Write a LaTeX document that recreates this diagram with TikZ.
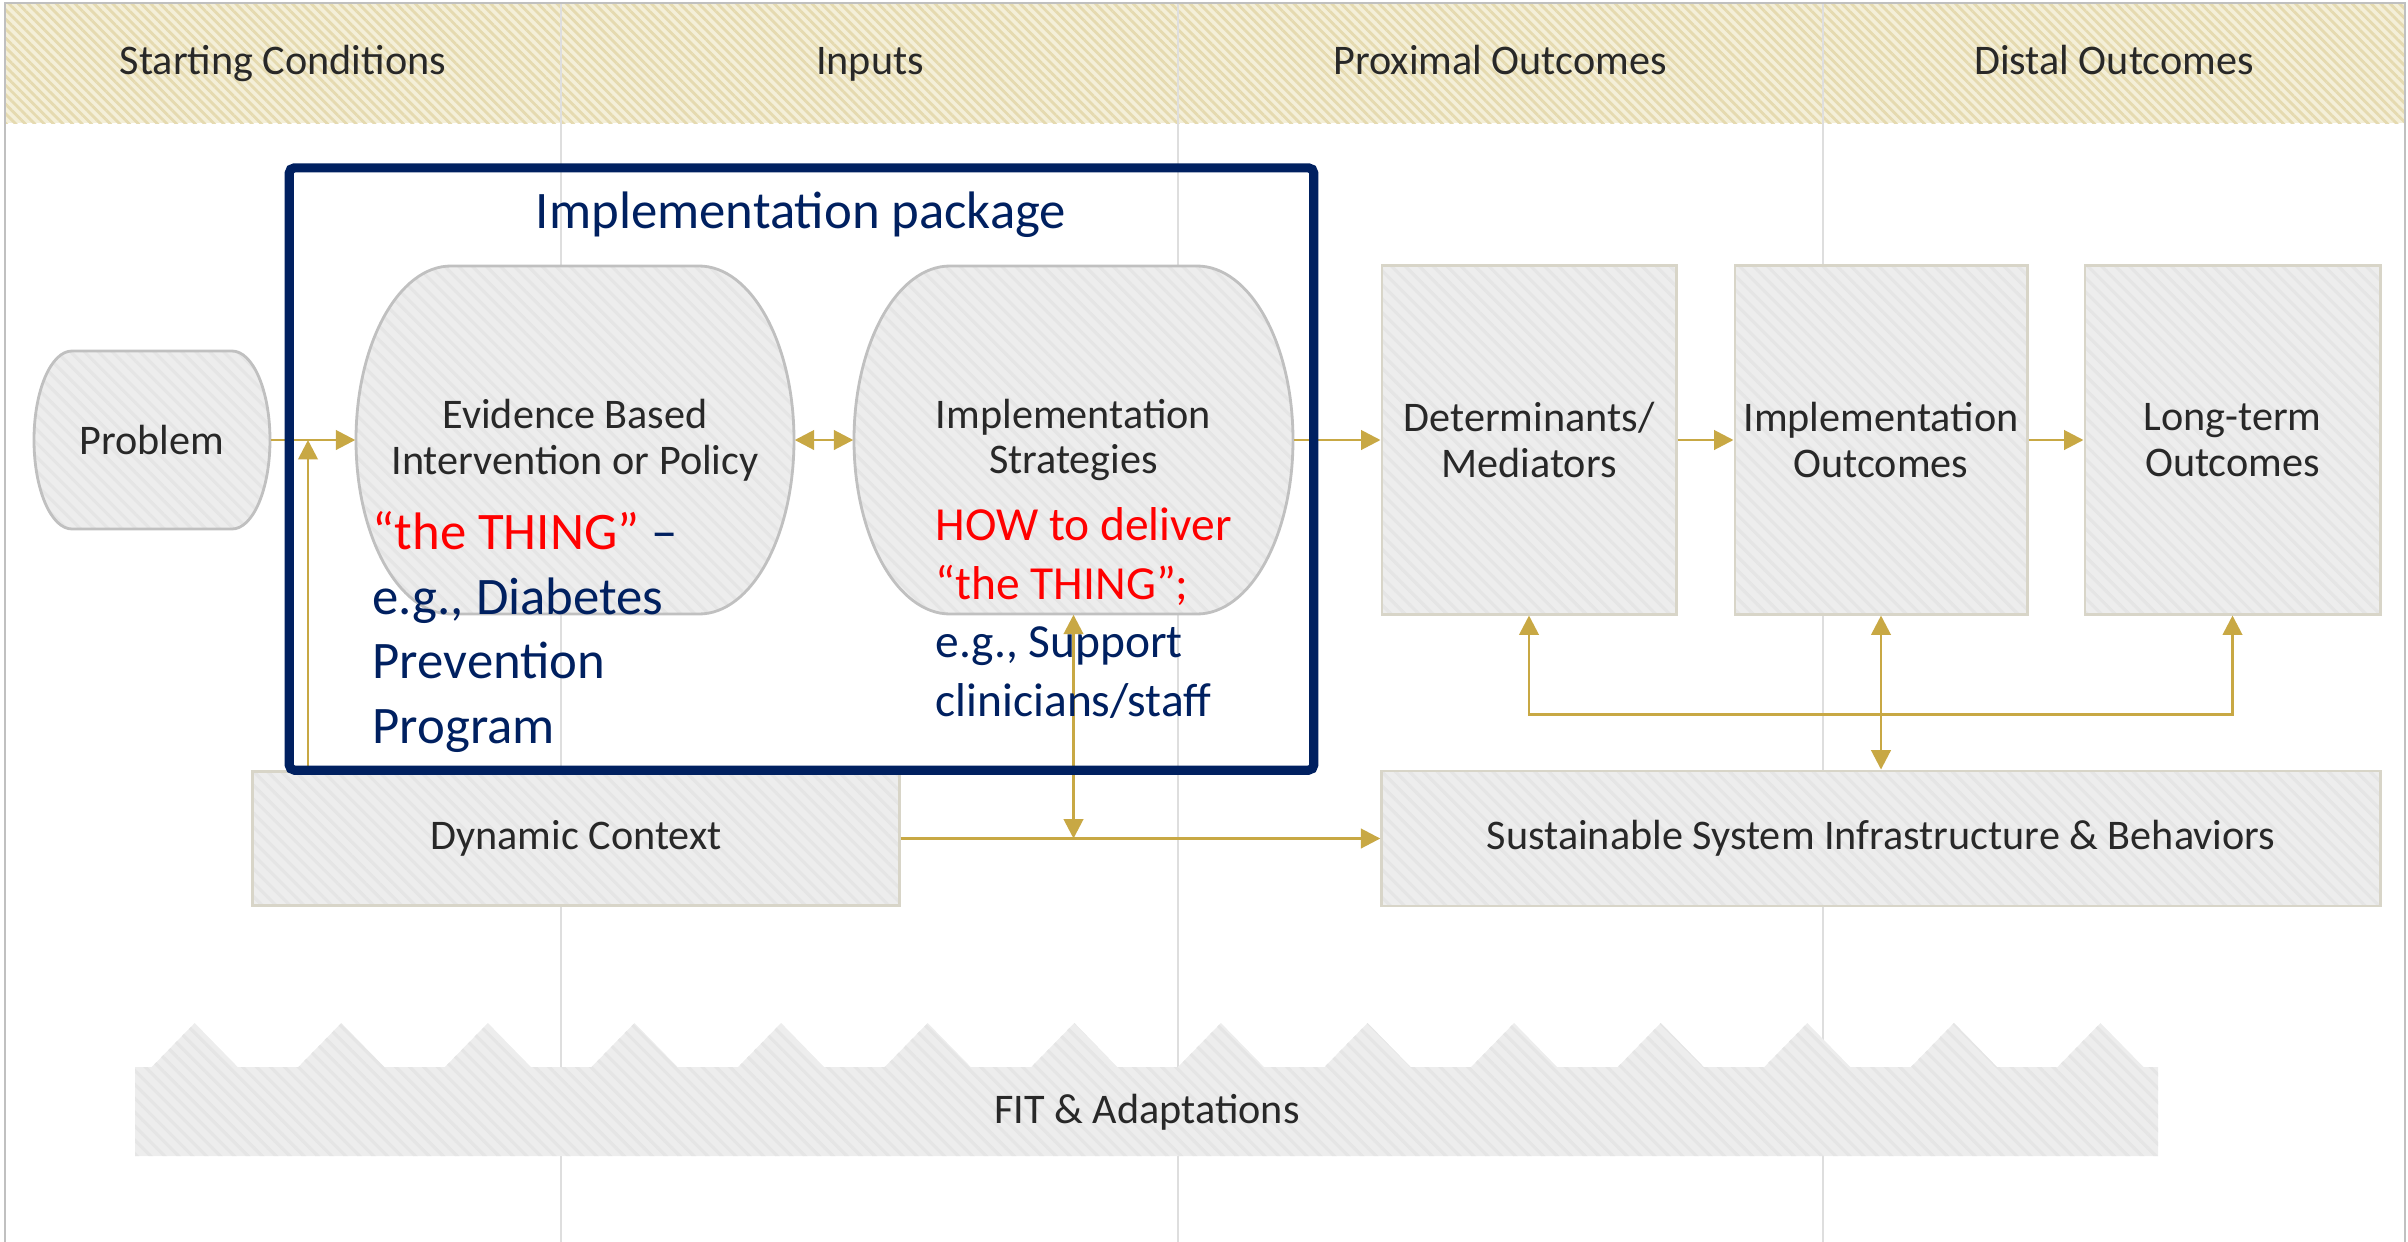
\documentclass[tikz,border=0pt]{standalone}
\usepackage{fontspec}
\setmainfont{Carlito}
\usetikzlibrary{arrows.meta}
\usetikzlibrary{patterns.meta}

\definecolor{navy}{RGB}{0,32,96}
\definecolor{gold}{RGB}{200,168,68}
\definecolor{boxfill}{RGB}{237,237,237}
\definecolor{boxstripe}{RGB}{229,229,229}
\definecolor{hdrfill}{RGB}{244,239,216}
\definecolor{hdrstripe}{RGB}{229,218,176}
\definecolor{gridgray}{RGB}{222,222,222}
\definecolor{softline}{RGB}{192,192,192}
\definecolor{rectline}{RGB}{216,213,200}
\definecolor{labelgray}{RGB}{40,40,40}

% rounded box with elliptic sides: name, cx, cy, width, height, corner, text
\newcommand{\softbox}[7]{%
  \path[softshape] (#2-#4/2+#6,#3+#5/2) -- (#2+#4/2-#6,#3+#5/2)
    arc[start angle=90,end angle=-90,x radius=#6,y radius=#5/2]
    -- (#2-#4/2+#6,#3-#5/2)
    arc[start angle=270,end angle=90,x radius=#6,y radius=#5/2] -- cycle;
  \node[boxtext, minimum width=#4*0.01cm, minimum height=#5*0.01cm] (#1) at (#2,#3) {#7};%
}

\begin{document}
\begin{tikzpicture}[x=0.01cm, y=0.01cm,
    boxtext/.style={align=center, text=labelgray, inner sep=0pt, font=\fontsize{12}{13}\selectfont},
    softshape/.style={draw=softline, line width=0.8pt, preaction={fill=boxfill},
      pattern={Lines[angle=-45,distance=2.8pt,line width=0.9pt]}, pattern color=boxstripe},
    graybox/.style={boxtext, draw=rectline, line width=0.8pt, preaction={fill=boxfill},
      pattern={Lines[angle=-45,distance=2.8pt,line width=0.9pt]}, pattern color=boxstripe},
    flow/.style={draw=gold, line width=0.8pt},
    >={Triangle[length=5.5pt,width=5.5pt]}]

    \useasboundingbox (0,0) rectangle (2408,-1242);

    % header band and column lines
    \path[preaction={fill=hdrfill}, pattern={Lines[angle=-45,distance=1.9pt,line width=0.8pt]},
      pattern color=hdrstripe] (5,-4) rectangle (2405,-123);
    \foreach \x in {561, 1178, 1823}{
      \draw[gridgray, line width=0.4pt] (\x,-4) -- (\x,-1242);
    }
    \draw[softline, line width=0.6pt] (5,-1242) -- (5,-3) -- (2405,-3) -- (2405,-1242);

    \foreach \n/\x/\t in {hdrstart/283/Starting Conditions, hdrinput/870/Inputs,
        hdrprox/1500/Proximal Outcomes, hdrdist/2114/Distal Outcomes}{
      \node[boxtext, anchor=base] (\n) at (\x,-74) {\t};
    }

    % boxes
    \softbox{prob}{152}{-440}{236}{178}{38}{Problem}
    \softbox{ebi}{575}{-440}{438}{348}{95}{Evidence Based\\Intervention or Policy}
    \softbox{strat}{1073.5}{-440}{439}{348}{96}{Implementation\\Strategies}

    \node[graybox, minimum width=2.94cm, minimum height=3.48cm] (det) at (1529,-440) {Determinants/\\Mediators};
    \node[graybox, minimum width=2.92cm, minimum height=3.48cm] (impl) at (1881,-440) {Implementation\\Outcomes};
    \node[graybox, minimum width=2.95cm, minimum height=3.48cm] (lt) at (2232.5,-440) {Long-term\\Outcomes};
    \node[graybox, minimum width=6.46cm, minimum height=1.34cm] (dyn) at (576,-838.5) {Dynamic Context};
    \node[graybox, minimum width=9.98cm, minimum height=1.35cm] (sus) at (1881,-838.5) {Sustainable System Infrastructure \& Behaviors};

    \path[preaction={fill=boxfill}, pattern={Lines[angle=-45,distance=2.8pt,line width=0.9pt]}, pattern color=boxstripe]
      (135,-1156) -- (135,-1067)
      foreach \i in {0,...,13}{ -- ({151.7+146.6*\i},-1067) -- ({194.7+146.6*\i},-1023) -- ({237.7+146.6*\i},-1067) }
      -- (2158,-1067) -- (2158,-1156) -- cycle;
    \node[boxtext, anchor=base] (fit) at (1147,-1123) {FIT \& Adaptations};

    % connectors
    \coordinate (merge) at (308,-440);
    \draw[flow, ->] (prob.east) -- (ebi.west);
    \draw[flow, ->] (dyn.north -| merge) -- (merge);
    \draw[flow, <->] (ebi.east) -- (strat.west);
    \draw[flow, ->] (strat.east) -- (det.west);
    \draw[flow, ->] (det.east) -- (impl.west);
    \draw[flow, ->] (impl.east) -- (lt.west);
    \draw[flow, ->] (dyn.east) -- (sus.west);
    \draw[flow, <->] (strat.south) -- (strat.south |- dyn.east);
    \draw[flow, <->] (impl.south) -- (sus.north);
    \draw[flow, <->] (det.south) -- ++(0,-99) -| (lt.south);

    % implementation package
    \node[draw=navy, line width=2.6pt, rounded corners=1.5pt, minimum width=10.24cm, minimum height=6.02cm] (pkg) at (801.5,-469) {};
    \node[anchor=base, text=navy, font=\fontsize{15}{18}\selectfont] (pkgname) at (801,-228) {Implementation package};

    \node[anchor=base west, align=left, inner sep=0pt, text=navy, font=\fontsize{15}{18.3}\selectfont] (ebinote) at (372,-743)
      {\textcolor{red}{“the THING”} –\\e.g., Diabetes\\Prevention\\Program};
    \node[anchor=base west, align=left, inner sep=0pt, text=navy, font=\fontsize{13.5}{16.6}\selectfont] (stratnote) at (935,-716)
      {\textcolor{red}{HOW to deliver}\\\textcolor{red}{“the THING”;}\\e.g., Support\\clinicians/staff};
\end{tikzpicture}
\end{document}
